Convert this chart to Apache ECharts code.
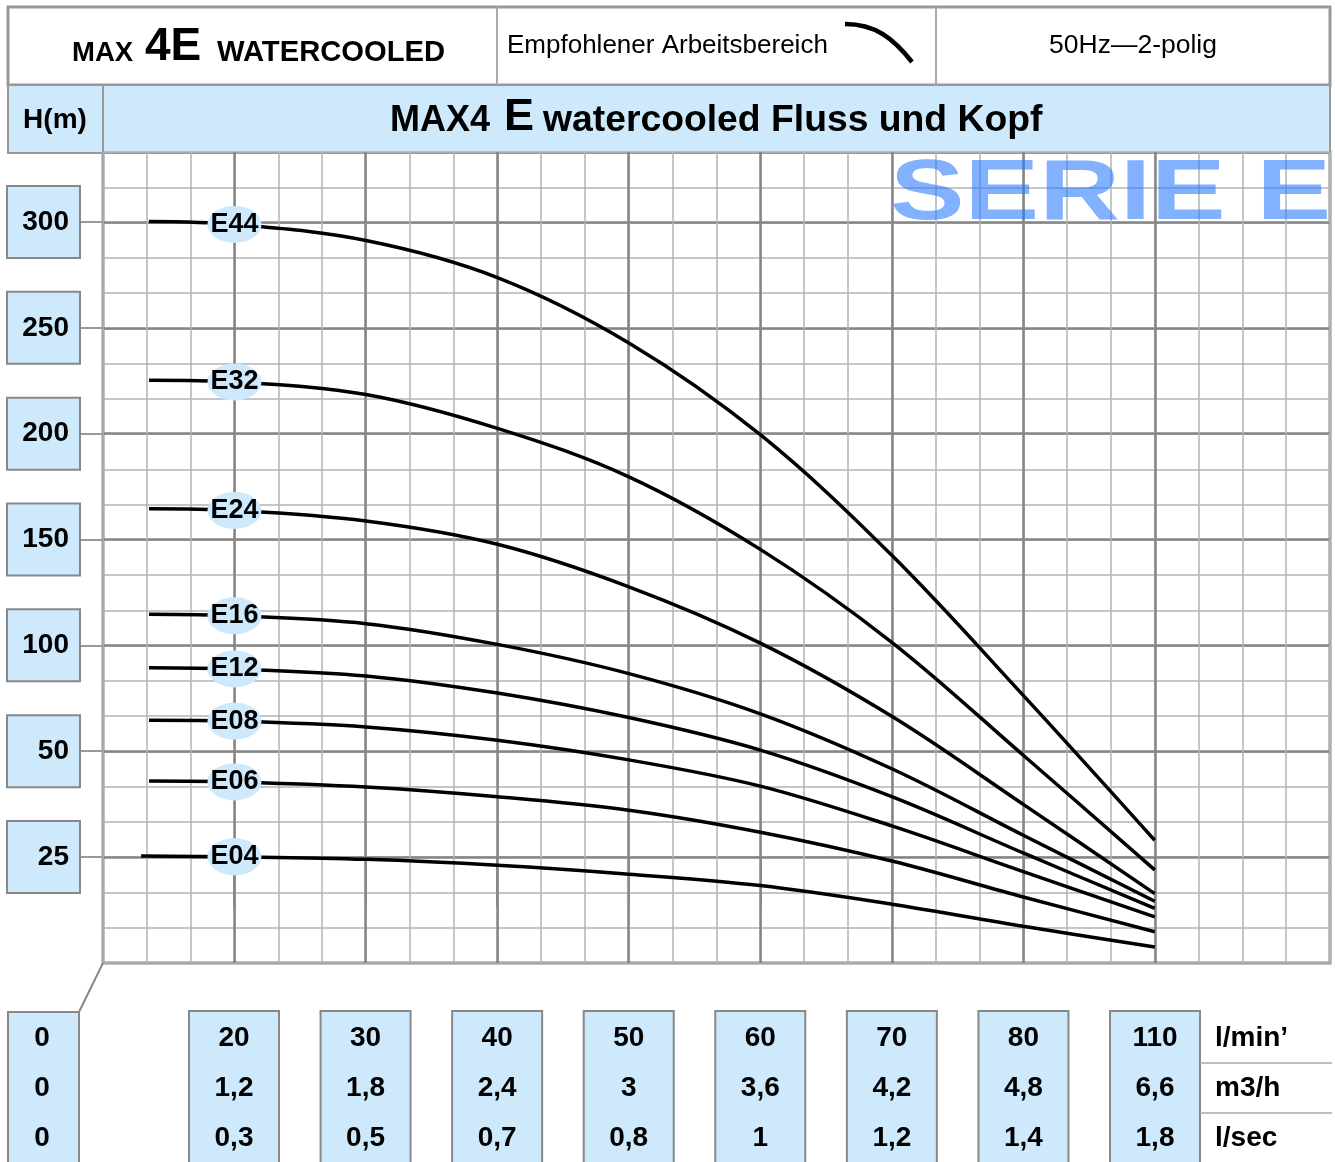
<!DOCTYPE html>
<html>
<head>
<meta charset="utf-8">
<title>MAX4 E watercooled Fluss und Kopf</title>
<script src="https://cdn.jsdelivr.net/npm/echarts@6/dist/echarts.min.js"></script>
<style>
  html, body { margin: 0; padding: 0; background: #fff; }
  #main { width: 1335px; height: 1162px; }
</style>
</head>
<body>
<div id="main"></div>
<script>
// Fördermenge an den Hauptlinien (l/min), dazu m3/h und l/sec
const flowLmin = [20, 30, 40, 50, 60, 70, 80, 110];
const flowM3h = ['1,2', '1,8', '2,4', '3', '3,6', '4,2', '4,8', '6,6'];
const flowLsec = ['0,3', '0,5', '0,7', '0,8', '1', '1,2', '1,4', '1,8'];
const zeroRow = ['0', '0', '0'];
const unitLabels = ['l/min’', 'm3/h', 'l/sec'];
// Skalenwerte H(m)
const headTicks = [25, 50, 100, 150, 200, 250, 300];

const curveNames = ['E44', 'E32', 'E24', 'E16', 'E12', 'E08', 'E06', 'E04'];
const curveStart = [13.5, 13.5, 13.5, 13.5, 13.5, 13.5, 13.5, 12.9];
// H(m) am Kurvenanfang, dann bei jedem Wert aus flowLmin
const headE44 = [300.5, 299.1, 291.5, 274.0, 243.1, 199.7, 142.7, 76.5, 29.0];
const headE32 = [225.5, 224.6, 218.7, 202.7, 179.8, 145.5, 101.6, 49.1, 22.0];
const headE24 = [164.7, 163.9, 158.9, 147.9, 127.8, 101.2, 66.6, 37.5, 16.4];
const headE16 = [114.8, 114.1, 110.4, 100.6, 86.8, 67.8, 45.9, 30.2, 14.6];
const headE12 = [89.6, 89.0, 85.7, 77.6, 66.0, 50.6, 39.3, 26.0, 12.9];
const headE08 = [64.7, 64.3, 61.6, 55.3, 48.0, 41.8, 32.4, 21.6, 10.9];
const headE06 = [43.0, 42.8, 41.6, 39.3, 36.1, 30.9, 24.1, 15.6, 7.4];
const headE04 = [25.3, 25.1, 24.5, 23.1, 21.0, 18.3, 13.9, 8.7, 3.8];
const curveHeads = [headE44, headE32, headE24, headE16, headE12, headE08, headE06, headE04];

// the sheet's scales are piecewise: 80..110 l/min takes one column, 0..50 m takes two rows
const toPx = q => (q <= 80 ? q : 80 + (q - 80) / 3);
const fromPx = p => (p <= 80 ? p : 80 + (p - 80) * 3);
const toPy = h => (h >= 50 ? h : 2 * h - 50);
const fromPy = v => (v >= 50 ? v : (v + 50) / 2);

const FONT = "'Liberation Sans', Arial, sans-serif";
const BLUE = '#cde9fb';
const ELLIPSE = 'path://M0,17A25,17,0,1,1,50,17A25,17,0,1,1,0,17Z';

let mycharts = echarts.init(document.getElementById('main'));

let series = curveNames.map(function (name, i) {
  let xs = [curveStart[i]].concat(flowLmin);
  let data = xs.map(function (q, k) {
    let pt = [toPx(q), toPy(curveHeads[i][k])];
    if (q === 20) {
      return {
        value: pt,
        symbol: ELLIPSE,
        symbolSize: [54, 37],
        itemStyle: { color: BLUE },
        label: { show: true }
      };
    }
    return { value: pt, symbol: 'none' };
  });
  return {
    name: name,
    type: 'line',
    xAxisIndex: 0,
    yAxisIndex: 0,
    data: data,
    smooth: 0.35,
    showSymbol: true,
    symbol: 'none',
    silent: true,
    animation: false,
    z: 3,
    lineStyle: { color: '#000', width: 3.5 },
    label: {
      show: false,
      position: 'inside',
      formatter: name,
      fontFamily: FONT,
      fontWeight: 'bold',
      fontSize: 27,
      color: '#000',
      textBorderWidth: 0,
      textBorderColor: 'transparent'
    },
    emphasis: { disabled: true }
  };
});

let graphics = [
  // Kopfzeile
  { type: 'rect', z: 0, shape: { x: 8, y: 7, width: 1322, height: 78 }, style: { fill: '#fff', stroke: '#999', lineWidth: 3 } },
  { type: 'line', z: 1, shape: { x1: 497, y1: 7, x2: 497, y2: 85 }, style: { stroke: '#aaa', lineWidth: 2 } },
  { type: 'line', z: 1, shape: { x1: 936, y1: 7, x2: 936, y2: 85 }, style: { stroke: '#aaa', lineWidth: 2 } },
  { type: 'text', z: 2, style: { text: 'MAX', x: 72, y: 53, fill: '#000', fontFamily: FONT, fontWeight: 'bold', fontSize: 27.5, verticalAlign: 'middle' } },
  { type: 'text', z: 2, style: { text: '4E', x: 145, y: 47, fill: '#000', fontFamily: FONT, fontWeight: 'bold', fontSize: 46, verticalAlign: 'middle' } },
  { type: 'text', z: 2, style: { text: 'WATERCOOLED', x: 217, y: 53, fill: '#000', fontFamily: FONT, fontWeight: 'bold', fontSize: 29.2, verticalAlign: 'middle' } },
  { type: 'text', z: 2, style: { text: 'Empfohlener Arbeitsbereich', x: 507, y: 46, fill: '#000', fontFamily: FONT, fontSize: 26, verticalAlign: 'middle' } },
  { type: 'bezierCurve', z: 2, shape: { x1: 845, y1: 24, cpx1: 875, cpy1: 24, cpx2: 893, cpy2: 38, x2: 912, y2: 62 }, style: { stroke: '#000', lineWidth: 4.5, fill: null } },
  { type: 'text', z: 2, style: { text: '50Hz—2-polig', x: 1133, y: 46, fill: '#000', fontFamily: FONT, fontSize: 26.5, align: 'center', verticalAlign: 'middle' } },
  // Titelzeile
  { type: 'rect', z: 0, shape: { x: 8, y: 85, width: 95, height: 68 }, style: { fill: BLUE, stroke: '#999', lineWidth: 2 } },
  { type: 'rect', z: 0, shape: { x: 103, y: 85, width: 1227, height: 68 }, style: { fill: BLUE, stroke: '#999', lineWidth: 2 } },
  { type: 'text', z: 2, style: { text: 'H(m)', x: 55, y: 120, fill: '#000', fontFamily: FONT, fontWeight: 'bold', fontSize: 28, align: 'center', verticalAlign: 'middle' } },
  { type: 'text', z: 2, style: { text: 'MAX4', x: 390, y: 121, fill: '#000', fontFamily: FONT, fontWeight: 'bold', fontSize: 36, verticalAlign: 'middle' } },
  { type: 'text', z: 2, style: { text: 'E', x: 504, y: 118, fill: '#000', fontFamily: FONT, fontWeight: 'bold', fontSize: 45, verticalAlign: 'middle' } },
  { type: 'text', z: 2, style: { text: 'watercooled Fluss und Kopf', x: 543, y: 121, fill: '#000', fontFamily: FONT, fontWeight: 'bold', fontSize: 37.3, verticalAlign: 'middle' } },
  // Serienstempel
  { type: 'text', z: 100, x: 890, y: 195, scaleX: 1.3, style: { text: 'SERIE E', x: 0, y: 0, fill: 'rgba(40,120,255,0.58)', fontFamily: FONT, fontWeight: 'bold', fontSize: 86, verticalAlign: 'middle' } },
  // unten links und rechts
  { type: 'line', z: 1, shape: { x1: 103, y1: 963, x2: 79, y2: 1012 }, style: { stroke: '#888', lineWidth: 2 } },
  { type: 'rect', z: 0, shape: { x: 8, y: 1012, width: 71, height: 170 }, style: { fill: BLUE, stroke: '#888', lineWidth: 2 } },
  { type: 'line', z: 1, shape: { x1: 1200, y1: 1063, x2: 1332, y2: 1063 }, style: { stroke: '#aaa', lineWidth: 1.5 } },
  { type: 'line', z: 1, shape: { x1: 1200, y1: 1113, x2: 1332, y2: 1113 }, style: { stroke: '#aaa', lineWidth: 1.5 } }
];
zeroRow.forEach(function (t, k) {
  graphics.push({ type: 'text', z: 2, style: { text: t, x: 42, y: 1038 + 50 * k, fill: '#000', fontFamily: FONT, fontWeight: 'bold', fontSize: 28, align: 'center', verticalAlign: 'middle' } });
});
unitLabels.forEach(function (t, k) {
  graphics.push({ type: 'text', z: 2, style: { text: t, x: 1215, y: 1038 + 50 * k, fill: '#000', fontFamily: FONT, fontWeight: 'bold', fontSize: 28, verticalAlign: 'middle' } });
});

let option = {
  backgroundColor: '#fff',
  animation: false,
  grid: [
    // Feinraster + Rahmen
    { left: 103, right: 5, top: 152, bottom: 199, show: true, borderColor: '#888', borderWidth: 3, backgroundColor: 'transparent', containLabel: false, outerBoundsMode: 'none' },
    // senkrechte Hauptlinien + Mengenskala
    { left: 234, right: 180, top: 152, bottom: 199, containLabel: false, outerBoundsMode: 'none' },
    // waagerechte Hauptlinien + Höhenskala
    { left: 103, right: 5, top: 222, bottom: 305, containLabel: false, outerBoundsMode: 'none' }
  ],
  xAxis: [
    {
      gridIndex: 0, type: 'value', min: 10, max: 310 / 3, interval: 10 / 3,
      axisLine: { show: false }, axisTick: { show: false }, axisLabel: { show: false },
      splitLine: { show: true, lineStyle: { color: '#b3b3b3', width: 1.5 } }
    },
    {
      gridIndex: 1, type: 'value', min: 20, max: 90, interval: 10,
      axisLine: { show: false },
      axisTick: { show: true, length: 49, lineStyle: { color: '#888', width: 2 } },
      splitLine: { show: true, lineStyle: { color: '#858585', width: 2.5 } },
      axisLabel: {
        margin: 49,
        formatter: function (v) {
          let k = flowLmin.indexOf(Math.round(fromPx(v)));
          if (k < 0) return '';
          return flowLmin[k] + '\n' + flowM3h[k] + '\n' + flowLsec[k];
        },
        fontFamily: FONT, fontWeight: 'bold', fontSize: 28, color: '#000',
        lineHeight: 50, align: 'center',
        width: 68, padding: [1, 10, 20, 10],
        backgroundColor: BLUE, borderColor: '#888', borderWidth: 2
      }
    },
    { gridIndex: 2, type: 'value', min: 10, max: 310 / 3, show: false }
  ],
  yAxis: [
    {
      gridIndex: 0, type: 'value', min: -50, max: 1000 / 3, interval: 50 / 3,
      axisLine: { show: false }, axisTick: { show: false }, axisLabel: { show: false },
      splitLine: { show: true, lineStyle: { color: '#b3b3b3', width: 1.5 } }
    },
    { gridIndex: 1, type: 'value', min: -50, max: 1000 / 3, show: false },
    {
      gridIndex: 2, type: 'value', min: 0, max: 300, interval: 50,
      axisLine: { show: false },
      axisTick: { show: true, length: 24, lineStyle: { color: '#999', width: 2 } },
      splitLine: { show: true, lineStyle: { color: '#858585', width: 2.5 } },
      axisLabel: {
        margin: 24,
        formatter: function (v) {
          let h = fromPy(v);
          return headTicks.indexOf(h) >= 0 ? String(h) : '';
        },
        fontFamily: FONT, fontWeight: 'bold', fontSize: 28, color: '#000',
        align: 'right', verticalAlign: 'middle',
        width: 51, height: 70, lineHeight: 70, padding: [0, 10, 0, 10],
        backgroundColor: BLUE, borderColor: '#888', borderWidth: 2
      }
    }
  ],
  graphic: { elements: graphics },
  series: series
};
mycharts.setOption(option);
</script>
</body>
</html>
